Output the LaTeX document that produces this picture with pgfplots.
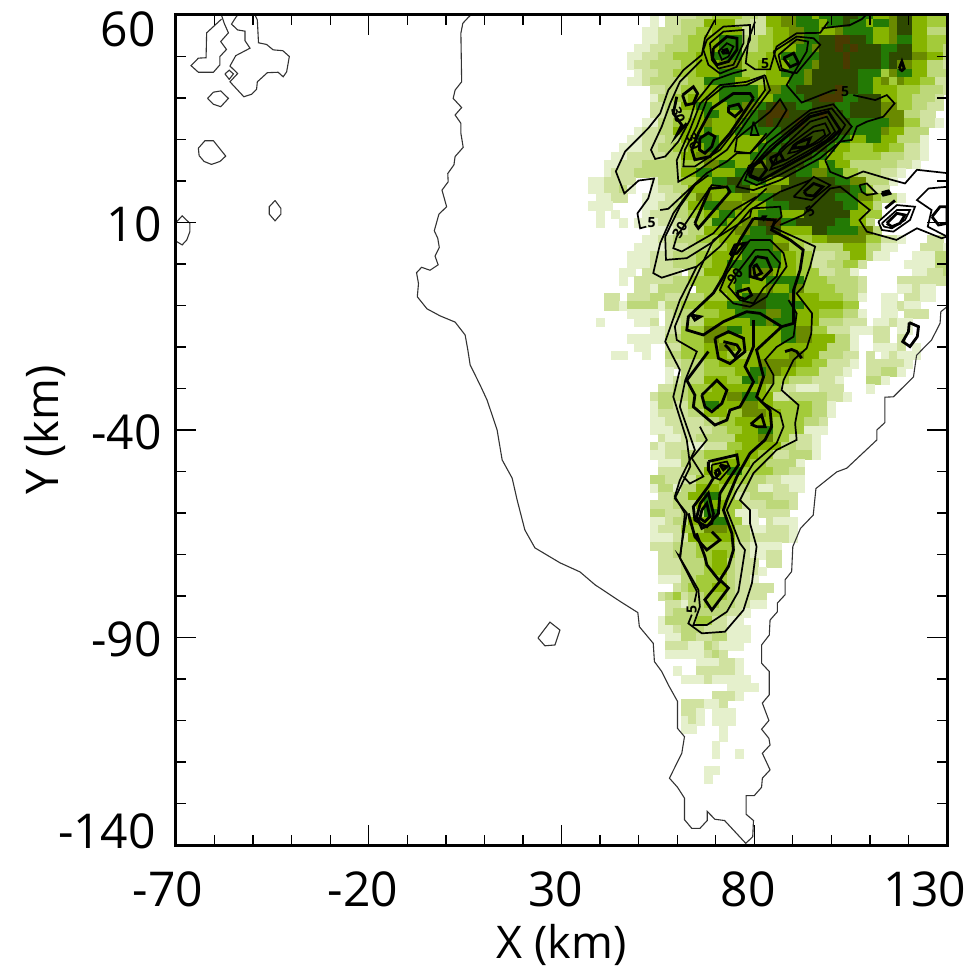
\documentclass[border=0pt]{standalone}
\usepackage{pgfplots}
\pgfplotsset{compat=1.18}
\usepackage{fontspec}
\setmainfont{Open Sans}
\definecolor{lev1}{HTML}{E5F0CC}
\definecolor{lev2}{HTML}{D0E2A0}
\definecolor{lev3}{HTML}{BDD87A}
\definecolor{lev4}{HTML}{A3CB3A}
\definecolor{lev5}{HTML}{86B400}
\definecolor{lev6}{HTML}{6A8A00}
\definecolor{lev7}{HTML}{237A05}
\definecolor{lev8}{HTML}{2F4A00}
\definecolor{lev9}{HTML}{4A3A00}
\newcommand\tickfont{\fontsize{48}{52}\selectfont}
\pgfplotsset{
 coast/.style={line width=1.1pt,color=black!80,forget plot},
 cont/.style={line width=1.7pt,black,forget plot},
 contb/.style={line width=2.8pt,black,forget plot},
}
\tikzset{clab/.style={font=\bfseries\fontsize{14}{14}\selectfont,inner sep=0pt}}
\begin{document}
\begin{tikzpicture}
\path[use as bounding box] (-176pt,-121pt) rectangle (803pt,845pt);
\begin{axis}[
 scale only axis, width=771pt, height=830pt,
 xmin=-70,xmax=130,ymin=-140,ymax=60,
 clip marker paths=true,
 xtick={-70,-20,30,80,130},ytick={-140,-90,-40,10,60},
 xticklabels={,-20,30,80,},yticklabels={,-90,-40,10,},
 minor xtick={-60,-50,...,120},minor ytick={-130,-120,...,50},
 tick align=inside, major tick length=20pt, minor tick length=10pt,
 tick style={black,line width=1.3pt},
 axis line style={line width=3pt},
 xticklabel style={font=\tickfont,anchor=center,yshift=-44pt,xshift=-6pt,inner sep=0pt},
 yticklabel style={font=\tickfont,anchor=east,xshift=-14pt,yshift=-2pt,inner sep=0pt},
 xlabel={X (km)},ylabel={Y (km)},
 label style={font=\fontsize{45}{50}\selectfont},
 xlabel style={at={(axis description cs:0.5,0)},anchor=center,yshift=-100pt},
 ylabel style={at={(axis description cs:0,0.5)},anchor=center,yshift=131pt},
 axis on top,
]
\addplot[scatter, only marks, mark=none, forget plot,
  visualization depends on=value \thisrow{n}\as\cn,
  visualization depends on=value \thisrow{l}\as\cl,
  scatter/@pre marker code/.code={%
    \pgfmathsetmacro\cw{7.71*\cn}%
    \fill[lev\cl] (-3.95pt,-4.25pt) rectangle ({\cw*1pt-3.75pt},4.25pt);},
  scatter/@post marker code/.code={},
] table[row sep=\\,x=x,y=y]{
x y n l\\
54 60 1 1\\58 60 4 2\\66 60 2 3\\70 60 4 4\\78 60 2 3\\82 60 1 2\\84 60 2 5\\88 60 2 6\\92 60 2 7\\96 60 1 5\\98 60 3 7\\104 60 2 8\\108 60 2 7\\112 60 2 5\\116 60 1 6\\118 60 2 8\\122 60 2 5\\126 60 3 4\\
54 58 1 1\\58 58 2 2\\62 58 3 3\\68 58 4 5\\76 58 2 3\\80 58 2 2\\84 58 2 5\\88 58 2 6\\92 58 3 7\\98 58 1 5\\100 58 2 7\\104 58 1 8\\106 58 2 7\\110 58 1 5\\112 58 2 7\\116 58 1 6\\118 58 2 8\\122 58 2 5\\126 58 3 4\\
52 56 2 1\\56 56 3 2\\62 56 2 3\\66 56 2 4\\70 56 4 5\\78 56 3 2\\84 56 1 4\\86 56 2 5\\90 56 2 6\\94 56 2 7\\98 56 2 5\\102 56 1 6\\104 56 4 7\\112 56 2 5\\116 56 1 6\\118 56 2 8\\122 56 2 5\\126 56 3 3\\
52 54 2 1\\56 54 2 2\\60 54 2 3\\64 54 2 4\\68 54 2 5\\72 54 3 7\\78 54 2 3\\82 54 2 4\\86 54 2 5\\90 54 2 6\\94 54 2 7\\98 54 2 8\\102 54 2 9\\106 54 2 8\\110 54 1 7\\112 54 2 5\\116 54 1 6\\118 54 2 7\\122 54 2 5\\126 54 3 4\\
50 52 2 1\\54 52 2 2\\58 52 3 3\\64 52 2 4\\68 52 2 5\\72 52 3 7\\78 52 2 3\\82 52 2 4\\86 52 3 5\\92 52 2 7\\96 52 1 6\\98 52 2 8\\102 52 1 9\\104 52 1 8\\106 52 1 9\\108 52 3 8\\114 52 2 7\\118 52 2 8\\122 52 2 5\\126 52 2 4\\130 52 1 3\\
48 50 2 1\\52 50 2 2\\56 50 2 3\\60 50 3 4\\66 50 2 5\\70 50 4 7\\78 50 3 4\\84 50 2 5\\88 50 4 7\\96 50 1 7\\98 50 3 8\\104 50 1 9\\106 50 4 8\\114 50 1 7\\116 50 3 8\\122 50 2 6\\126 50 2 5\\130 50 1 3\\
48 48 1 1\\50 48 2 2\\54 48 4 3\\62 48 2 4\\66 48 3 5\\72 48 3 6\\78 48 2 4\\82 48 4 5\\90 48 3 7\\96 48 1 6\\98 48 3 8\\104 48 1 9\\106 48 4 8\\114 48 1 7\\116 48 1 8\\118 48 2 6\\122 48 2 5\\126 48 2 3\\130 48 1 2\\
50 46 1 1\\52 46 2 2\\56 46 2 3\\60 46 3 4\\66 46 3 5\\72 46 3 7\\78 46 3 4\\84 46 2 5\\88 46 3 7\\94 46 1 6\\96 46 6 8\\108 46 3 7\\114 46 1 4\\116 46 1 6\\118 46 2 7\\122 46 2 5\\126 46 3 3\\
48 44 2 1\\52 44 1 2\\54 44 3 3\\60 44 2 3\\64 44 2 4\\68 44 4 7\\76 44 2 5\\80 44 2 4\\84 44 3 5\\90 44 2 7\\94 44 1 6\\96 44 6 8\\108 44 2 7\\112 44 1 5\\114 44 1 6\\116 44 1 4\\118 44 1 6\\120 44 2 5\\124 44 2 4\\128 44 2 2\\
54 42 2 2\\58 42 2 3\\62 42 3 4\\68 42 2 5\\72 42 5 7\\82 42 1 5\\84 42 2 6\\88 42 2 7\\92 42 5 8\\102 42 1 9\\104 42 2 8\\108 42 2 7\\112 42 3 5\\118 42 3 4\\124 42 3 3\\130 42 1 2\\
54 40 1 1\\56 40 2 3\\60 40 2 4\\64 40 4 5\\72 40 5 7\\82 40 2 5\\86 40 4 7\\94 40 2 8\\98 40 3 9\\104 40 2 7\\108 40 3 8\\114 40 2 5\\118 40 2 4\\122 40 3 3\\128 40 1 2\\
54 38 2 2\\58 38 2 3\\62 38 2 5\\66 38 2 7\\70 38 2 5\\74 38 2 7\\78 38 2 6\\82 38 1 7\\84 38 1 8\\86 38 1 9\\88 38 2 8\\92 38 2 7\\96 38 3 8\\102 38 2 7\\106 38 4 8\\114 38 2 6\\118 38 2 4\\122 38 2 3\\126 38 2 2\\
54 36 2 2\\58 36 2 3\\62 36 2 4\\66 36 1 5\\68 36 2 7\\72 36 3 5\\78 36 1 6\\80 36 1 7\\82 36 1 8\\84 36 3 9\\90 36 4 8\\98 36 1 9\\100 36 2 8\\104 36 1 7\\106 36 4 8\\114 36 3 6\\120 36 2 3\\124 36 2 2\\
52 34 2 1\\56 34 2 3\\60 34 2 4\\64 34 2 5\\68 34 1 6\\70 34 3 5\\76 34 1 6\\78 34 2 7\\82 34 1 8\\84 34 1 9\\86 34 3 8\\92 34 1 9\\94 34 6 8\\106 34 5 7\\116 34 2 6\\120 34 2 4\\124 34 2 2\\128 34 1 1\\
50 32 1 1\\52 32 2 2\\56 32 2 3\\60 32 4 5\\68 32 1 7\\70 32 3 5\\76 32 6 7\\88 32 3 8\\94 32 6 8\\106 32 4 7\\114 32 1 6\\116 32 2 5\\120 32 3 3\\
48 30 2 1\\52 30 3 2\\58 30 2 3\\62 30 2 5\\66 30 3 7\\72 30 6 5\\84 30 3 7\\90 30 6 8\\102 30 2 7\\106 30 2 5\\110 30 2 7\\114 30 2 5\\118 30 3 3\\124 30 1 1\\
46 28 3 1\\52 28 2 2\\56 28 2 3\\60 28 2 4\\64 28 2 5\\68 28 2 7\\72 28 5 5\\82 28 3 7\\88 28 6 8\\100 28 1 7\\102 28 2 5\\106 28 3 4\\112 28 2 5\\116 28 2 4\\120 28 2 2\\124 28 1 1\\
44 26 2 1\\48 26 5 2\\58 26 2 3\\62 26 2 5\\66 26 2 6\\70 26 5 5\\80 26 2 7\\84 26 6 8\\96 26 2 7\\100 26 2 5\\104 26 5 4\\114 26 3 3\\120 26 2 2\\124 26 1 1\\
42 24 2 1\\46 24 3 2\\52 24 5 3\\62 24 3 4\\68 24 2 6\\72 24 2 7\\76 24 2 5\\80 24 2 6\\84 24 5 8\\94 24 2 7\\98 24 1 5\\100 24 1 7\\102 24 2 5\\106 24 6 3\\118 24 2 2\\122 24 1 1\\
42 22 1 1\\44 22 3 2\\50 22 6 3\\62 22 2 5\\66 22 2 7\\70 22 3 5\\76 22 2 7\\80 22 6 8\\92 22 2 7\\96 22 2 6\\100 22 2 7\\104 22 2 4\\108 22 3 3\\114 22 2 2\\118 22 1 1\\
38 20 2 1\\42 20 4 2\\54 20 1 1\\56 20 3 3\\62 20 2 4\\66 20 2 5\\70 20 2 7\\74 20 2 8\\78 20 3 7\\84 20 3 5\\90 20 6 8\\102 20 2 7\\106 20 2 6\\110 20 3 3\\116 20 1 1\\
38 18 2 1\\42 18 2 2\\46 18 1 3\\48 18 1 1\\54 18 1 1\\56 18 2 2\\60 18 2 3\\64 18 2 5\\68 18 3 5\\74 18 1 7\\76 18 2 8\\80 18 2 5\\84 18 2 6\\88 18 9 8\\106 18 2 7\\110 18 1 4\\112 18 2 2\\
40 16 2 1\\44 16 2 2\\52 16 3 1\\58 16 2 2\\62 16 2 4\\66 16 2 6\\70 16 4 5\\78 16 2 6\\82 16 2 7\\86 16 8 8\\102 16 3 7\\108 16 2 6\\112 16 1 4\\114 16 2 3\\118 16 1 1\\
38 14 3 1\\52 14 2 1\\56 14 2 2\\60 14 2 3\\64 14 2 5\\68 14 2 7\\72 14 3 6\\78 14 3 5\\84 14 3 7\\90 14 7 8\\104 14 2 7\\108 14 2 5\\112 14 1 3\\
40 12 1 1\\44 12 1 1\\52 12 1 1\\54 12 3 2\\60 12 2 3\\64 12 2 4\\68 12 2 5\\72 12 2 7\\76 12 3 5\\82 12 3 7\\88 12 3 5\\94 12 6 8\\106 12 2 5\\110 12 2 4\\
40 10 1 1\\46 10 1 1\\50 10 3 1\\56 10 3 2\\62 10 2 3\\66 10 2 4\\70 10 2 7\\74 10 2 5\\78 10 2 6\\82 10 1 8\\84 10 2 9\\88 10 2 7\\92 10 5 8\\102 10 2 7\\106 10 2 5\\110 10 1 3\\
54 8 3 1\\60 8 2 2\\64 8 2 3\\68 8 4 5\\76 8 2 6\\80 8 2 7\\84 8 2 8\\88 8 4 5\\96 8 2 8\\100 8 4 7\\108 8 2 6\\112 8 1 3\\
52 6 2 1\\56 6 2 2\\60 6 3 3\\66 6 3 4\\72 6 3 5\\78 6 4 7\\86 6 2 5\\90 6 3 4\\96 6 2 5\\100 6 5 6\\110 6 2 4\\114 6 2 2\\118 6 1 1\\126 6 2 2\\
50 4 4 1\\58 4 3 2\\64 4 3 3\\70 4 2 4\\74 4 2 5\\78 4 4 7\\86 4 2 6\\90 4 2 4\\94 4 5 3\\104 4 3 5\\110 4 2 3\\114 4 2 1\\124 4 3 2\\130 4 1 1\\
48 2 3 1\\54 2 3 2\\60 2 3 3\\66 2 2 4\\70 2 4 5\\78 2 5 7\\88 2 2 5\\92 2 2 4\\96 2 3 2\\102 2 2 3\\106 2 2 5\\110 2 1 3\\112 2 2 1\\122 2 3 1\\128 2 2 3\\
48 0 3 1\\54 0 3 2\\60 0 3 3\\66 0 2 4\\70 0 2 5\\74 0 7 7\\88 0 2 5\\92 0 2 4\\96 0 2 2\\100 0 2 3\\104 0 2 4\\108 0 1 2\\120 0 4 1\\128 0 2 3\\
46 -2 2 1\\52 -2 5 2\\64 -2 2 3\\68 -2 4 5\\76 -2 2 7\\80 -2 3 6\\86 -2 3 5\\92 -2 3 4\\98 -2 2 2\\102 -2 2 3\\106 -2 1 1\\122 -2 2 1\\126 -2 2 2\\130 -2 1 3\\
46 -4 1 1\\50 -4 5 2\\60 -4 2 3\\64 -4 4 4\\72 -4 2 5\\76 -4 2 7\\80 -4 2 5\\84 -4 5 7\\94 -4 3 4\\100 -4 4 3\\108 -4 1 2\\118 -4 7 2\\
50 -6 2 2\\54 -6 1 1\\56 -6 4 3\\66 -6 3 4\\72 -6 2 5\\76 -6 1 7\\78 -6 3 5\\84 -6 1 6\\86 -6 2 5\\90 -6 1 7\\92 -6 1 6\\94 -6 4 4\\102 -6 3 3\\108 -6 1 2\\118 -6 2 1\\122 -6 1 2\\124 -6 2 1\\
42 -8 2 2\\48 -8 3 2\\54 -8 2 3\\58 -8 2 2\\62 -8 3 3\\68 -8 3 4\\74 -8 2 5\\78 -8 1 7\\80 -8 2 8\\84 -8 3 7\\90 -8 1 6\\92 -8 3 5\\98 -8 3 4\\104 -8 2 3\\108 -8 1 1\\114 -8 2 1\\120 -8 2 2\\124 -8 2 1\\
42 -10 2 2\\46 -10 1 1\\48 -10 4 3\\56 -10 1 1\\58 -10 2 3\\62 -10 3 4\\68 -10 3 5\\74 -10 2 7\\78 -10 3 8\\84 -10 5 7\\94 -10 5 5\\104 -10 2 4\\114 -10 2 1\\118 -10 1 2\\120 -10 2 1\\
48 -12 4 1\\58 -12 1 2\\60 -12 3 3\\66 -12 3 4\\72 -12 2 5\\76 -12 4 7\\84 -12 2 6\\88 -12 2 7\\92 -12 3 5\\98 -12 3 4\\104 -12 2 3\\108 -12 1 1\\114 -12 2 1\\120 -12 3 2\\
40 -14 1 1\\50 -14 2 1\\54 -14 1 2\\58 -14 2 2\\62 -14 3 3\\68 -14 6 5\\80 -14 2 7\\84 -14 1 6\\86 -14 3 7\\92 -14 3 5\\98 -14 3 3\\104 -14 3 2\\112 -14 2 1\\116 -14 1 2\\118 -14 2 1\\
54 -16 2 1\\58 -16 2 2\\62 -16 3 4\\68 -16 3 6\\74 -16 2 7\\78 -16 5 5\\88 -16 2 7\\92 -16 2 6\\96 -16 2 4\\100 -16 3 2\\106 -16 3 1\\112 -16 2 2\\118 -16 2 1\\
48 -18 3 1\\54 -18 2 1\\58 -18 2 3\\62 -18 3 4\\68 -18 2 6\\72 -18 6 5\\84 -18 2 5\\88 -18 2 7\\92 -18 2 6\\96 -18 3 5\\102 -18 2 3\\106 -18 1 1\\112 -18 2 2\\118 -18 1 2\\
50 -20 2 1\\58 -20 2 2\\62 -20 3 4\\68 -20 2 5\\72 -20 2 6\\76 -20 12 5\\100 -20 3 3\\106 -20 1 1\\112 -20 3 1\\118 -20 1 2\\122 -20 1 1\\
44 -22 2 1\\52 -22 1 1\\58 -22 2 3\\62 -22 3 4\\68 -22 3 5\\74 -22 3 4\\80 -22 5 5\\90 -22 2 6\\94 -22 2 5\\98 -22 3 3\\104 -22 2 2\\110 -22 1 2\\114 -22 1 1\\116 -22 1 2\\118 -22 3 1\\
58 -24 2 2\\62 -24 3 3\\68 -24 2 4\\72 -24 5 5\\82 -24 5 6\\92 -24 2 5\\96 -24 2 4\\100 -24 3 2\\106 -24 1 1\\110 -24 5 2\\120 -24 1 1\\
58 -26 1 1\\62 -26 3 3\\68 -26 4 4\\76 -26 2 5\\80 -26 2 7\\84 -26 2 6\\88 -26 2 5\\92 -26 3 4\\98 -26 3 2\\104 -26 1 1\\110 -26 2 2\\114 -26 2 3\\118 -26 1 1\\
58 -28 1 1\\60 -28 1 2\\62 -28 3 3\\68 -28 3 5\\74 -28 2 4\\78 -28 2 7\\82 -28 2 6\\86 -28 2 4\\90 -28 3 3\\96 -28 3 2\\102 -28 1 1\\110 -28 2 3\\114 -28 1 1\\
56 -30 2 2\\60 -30 2 3\\64 -30 3 4\\70 -30 7 5\\84 -30 2 4\\88 -30 2 2\\92 -30 3 1\\98 -30 3 2\\110 -30 1 1\\
54 -32 1 2\\56 -32 4 3\\64 -32 2 4\\68 -32 3 5\\74 -32 2 6\\78 -32 2 7\\82 -32 2 5\\86 -32 2 2\\90 -32 5 3\\100 -32 2 2\\104 -32 1 1\\
54 -34 1 1\\56 -34 2 3\\60 -34 2 2\\64 -34 2 4\\68 -34 2 7\\72 -34 3 5\\78 -34 2 6\\82 -34 2 5\\86 -34 5 4\\96 -34 2 3\\100 -34 1 1\\
54 -36 1 1\\56 -36 4 2\\64 -36 2 3\\68 -36 3 5\\74 -36 2 4\\78 -36 3 6\\84 -36 2 5\\88 -36 4 4\\96 -36 2 3\\100 -36 1 1\\
54 -38 2 1\\58 -38 5 2\\68 -38 2 3\\72 -38 2 4\\76 -38 5 5\\86 -38 4 4\\94 -38 2 3\\98 -38 1 2\\
54 -40 3 1\\60 -40 5 2\\70 -40 2 3\\74 -40 2 4\\78 -40 2 5\\82 -40 2 7\\86 -40 4 4\\94 -40 3 1\\
56 -42 1 2\\58 -42 2 1\\62 -42 2 2\\66 -42 5 3\\76 -42 3 5\\82 -42 2 6\\86 -42 2 4\\90 -42 3 2\\96 -42 1 1\\
54 -44 1 2\\56 -44 1 1\\58 -44 3 2\\64 -44 2 1\\68 -44 3 2\\74 -44 2 4\\78 -44 5 5\\88 -44 2 3\\92 -44 2 2\\96 -44 1 1\\
54 -46 2 1\\58 -46 2 2\\62 -46 3 3\\68 -46 4 4\\76 -46 3 5\\82 -46 2 4\\86 -46 2 2\\90 -46 3 3\\96 -46 1 1\\
56 -48 3 1\\62 -48 4 3\\70 -48 5 5\\80 -48 2 4\\84 -48 4 3\\92 -48 1 1\\
56 -50 4 2\\64 -50 2 3\\68 -50 3 5\\74 -50 2 7\\78 -50 4 4\\86 -50 2 3\\90 -50 2 2\\
54 -52 2 3\\58 -52 4 2\\66 -52 3 4\\72 -52 2 5\\76 -52 2 4\\80 -52 2 3\\84 -52 2 2\\88 -52 3 1\\
54 -54 1 1\\56 -54 2 3\\60 -54 1 1\\62 -54 2 3\\66 -54 3 5\\72 -54 2 4\\76 -54 3 3\\82 -54 2 1\\86 -54 2 2\\90 -54 2 1\\
56 -56 2 2\\60 -56 2 3\\64 -56 2 5\\68 -56 2 7\\72 -56 2 4\\76 -56 2 2\\80 -56 3 3\\86 -56 3 2\\
54 -58 3 2\\60 -58 3 3\\66 -58 1 5\\68 -58 1 7\\70 -58 2 5\\74 -58 2 4\\78 -58 3 2\\84 -58 3 3\\90 -58 1 2\\
54 -60 2 3\\58 -60 2 2\\62 -60 3 3\\68 -60 2 7\\72 -60 2 4\\76 -60 3 1\\82 -60 1 2\\84 -60 3 2\\
54 -62 2 1\\58 -62 1 2\\60 -62 2 3\\64 -62 3 5\\70 -62 2 7\\74 -62 2 4\\78 -62 2 1\\84 -62 1 2\\86 -62 3 1\\
54 -64 1 1\\56 -64 3 2\\62 -64 3 4\\68 -64 3 6\\74 -64 1 5\\76 -64 2 3\\80 -64 2 1\\84 -64 3 2\\90 -64 1 1\\
54 -66 3 1\\60 -66 2 2\\64 -66 6 5\\76 -66 2 3\\80 -66 5 2\\90 -66 1 1\\
54 -68 3 2\\60 -68 3 3\\66 -68 5 4\\76 -68 2 2\\80 -68 4 1\\
56 -70 2 2\\60 -70 3 3\\66 -70 2 4\\70 -70 2 5\\74 -70 1 4\\76 -70 2 2\\80 -70 2 1\\84 -70 2 2\\
56 -72 3 2\\62 -72 3 3\\68 -72 1 4\\70 -72 2 5\\74 -72 1 3\\76 -72 3 2\\84 -72 2 2\\
56 -74 3 2\\62 -74 3 3\\68 -74 1 4\\70 -74 2 5\\74 -74 1 3\\76 -74 3 2\\82 -74 1 1\\
56 -76 3 1\\62 -76 2 3\\66 -76 4 4\\74 -76 1 3\\76 -76 2 2\\80 -76 1 1\\
60 -78 1 2\\62 -78 1 3\\64 -78 3 4\\70 -78 2 5\\74 -78 1 3\\76 -78 2 2\\80 -78 3 2\\
56 -80 1 2\\58 -80 1 3\\60 -80 1 4\\62 -80 1 2\\64 -80 2 3\\68 -80 3 4\\74 -80 1 3\\76 -80 4 2\\
58 -82 2 2\\62 -82 1 1\\64 -82 2 3\\68 -82 2 4\\72 -82 2 3\\76 -82 2 2\\80 -82 2 1\\
58 -84 1 2\\60 -84 2 3\\64 -84 4 3\\72 -84 1 3\\74 -84 2 2\\78 -84 1 1\\
56 -86 1 1\\58 -86 2 3\\62 -86 2 3\\66 -86 2 4\\70 -86 2 2\\74 -86 2 1\\
56 -88 2 1\\60 -88 1 2\\62 -88 3 3\\68 -88 3 2\\74 -88 3 1\\
58 -90 2 1\\62 -90 2 3\\66 -90 2 2\\70 -90 2 3\\74 -90 3 1\\
58 -92 3 2\\64 -92 2 1\\68 -92 1 3\\70 -92 1 2\\72 -92 3 1\\
58 -94 3 1\\64 -94 2 1\\68 -94 1 2\\70 -94 1 3\\72 -94 1 2\\
66 -96 3 1\\72 -96 2 2\\76 -96 1 1\\
60 -98 1 1\\66 -98 5 2\\76 -98 1 1\\
62 -100 3 1\\68 -100 1 2\\70 -100 5 1\\
74 -102 4 1\\
70 -104 3 2\\76 -104 1 1\\
62 -106 3 2\\68 -106 2 1\\72 -106 1 2\\
62 -108 2 2\\66 -108 1 1\\70 -108 3 1\\
62 -110 1 1\\64 -110 1 2\\66 -110 1 1\\70 -110 3 1\\
62 -112 2 1\\72 -112 1 1\\
72 -114 1 1\\
70 -116 1 1\\
70 -118 1 1\\76 -118 1 1\\
68 -122 2 1\\
68 -124 1 1\\
};
% coastline and outer blobs
\addplot[coast] coordinates {(6.5,60)(5.8,59.4)(4.4,58)(3.9,55.6)(4.1,43.9)(2.4,41.9)(1.9,39.9)(4.1,37.7)(2.4,35.9)(3.9,33.9)(3.9,31.5)(4.5,28.1)(2.4,25.9)(2.1,23.9)(0.5,21.8)(0.6,19.8)(-1,17.8)(0.2,13.8)(-1.8,12)(-3,8)(-2.1,6.2)(-1.7,4)(-2.8,1.9)(-2,-0.2)(-4.1,-1.5)(-6.3,-0.8)(-7.6,-2.1)(-7.1,-4.7)(-7.4,-7.9)(-4.9,-10.8)(-1.5,-12.5)(2.4,-14)(5,-17.1)(5.7,-20.7)(6.3,-24.3)(8.9,-29.2)(10.7,-32.8)(13.3,-40)(14.6,-47.2)(17.2,-51.6)(18.5,-56.9)(20.5,-64.1)(23.1,-68.4)(29.6,-72)(34.8,-74.2)(38.7,-77.3)(45.2,-81.3)(49.8,-84)(50.2,-87.4)(53.8,-91.4)(54.1,-95.8)(56,-98.2)(57.7,-101.4)(60.1,-105.4)(60.1,-111.9)(61.9,-113.9)(61.2,-117.9)(58,-123.9)(60.1,-126.1)(61.9,-128.7)(61.9,-133.9)(63.8,-136)(65.9,-136)(67.8,-134.1)(67.8,-131.9)(69.8,-133.8)(72.3,-134.1)(77.8,-139.6)(79.6,-138)(79.8,-134.1)(77.9,-132.6)(77.9,-128.1)(80,-128.1)(81.9,-126.1)(82.1,-123.9)(84.1,-121.9)(82.1,-117.9)(84.1,-115.9)(83.8,-114.3)(81.9,-112.1)(83.8,-110)(82.1,-105.8)(83.9,-103.8)(83.9,-98.2)(81.9,-96.2)(81.9,-91.8)(83.9,-89.4)(84.1,-85.8)(86,-83.8)(86,-81.7)(88,-79.7)(88,-76.1)(89.7,-74.1)(90,-68.1)(92,-63.7)(95.3,-60.5)(96,-54.1)(101.4,-50.1)(104,-49.2)(111.8,-42.4)(111.8,-40)(113.9,-38.2)(113.9,-32.1)(116.1,-32)(121.3,-27.2)(122.1,-22)(126,-18.3)(128.2,-14.3)(128.4,-11.5)(130,-10.3)};
\addplot[coast] coordinates {(-58.2,59)(-62.05,55.7)(-62.2,49.7)(-64.2,49.6)(-66.1,47.8)(-64.2,46.2)(-60.3,46.2)(-58.6,48)(-58.6,50)(-56.9,51.7)(-58.4,53.6)(-56.4,55.7)(-57.5,58)(-58.2,60)};
\addplot[coast] coordinates {(-54,60)(-54.5,59.4)(-55.6,57.8)(-54,56.4)(-52.1,56.1)(-52.1,53.8)(-50.8,52)(-54.5,50.2)(-56,47.7)(-54,45.9)(-56,43.9)(-52.4,40.3)(-50.4,40.9)(-49.1,42.1)(-48.9,43.9)(-46.3,46.1)(-43.5,46.2)(-42.2,45.1)(-41.3,46.3)(-40.6,50)(-42.3,51.4)(-44.8,51.6)(-46.5,52.9)(-48.6,53.3)(-48.9,58.8)(-49.5,60)};
\addplot[coast] coordinates {(-57.3,45.8)(-56.2,46.7)(-55.1,45.8)(-56.2,44.5)(-57.3,45.8)};
\addplot[coast] coordinates {(-61.8,39.9)(-60.3,41.4)(-58.4,41.7)(-56.4,39.9)(-58.4,37.9)(-60.3,38.5)(-61.8,39.9)};
\addplot[coast] coordinates {(-64.2,27.9)(-62.5,29.7)(-60.3,29.7)(-57.1,26)(-58.6,24.7)(-60.8,24)(-62.7,24.7)(-64,26.1)(-64.2,27.9)};
\addplot[coast] coordinates {(-44.3,15.3)(-42.8,13.4)(-42.8,12)(-44.3,10.4)(-45.8,12)(-45.8,13.8)(-44.3,15.3)};
\addplot[coast] coordinates {(-70,10)(-68.4,11.6)(-66.4,9.8)(-66.4,7.8)(-67.2,5.8)(-68.4,4.6)(-70,5.5)};
\addplot[coast] coordinates {(23.9,-90.1)(27,-86.3)(29.6,-88.2)(28.3,-91.8)(25.7,-92)(23.9,-90.1)};
% contours: upper lobes
\addplot[cont] coordinates {(69.8,58.8)(67.2,54.4)(66.4,50.4)(61.6,46.7)(57.7,41.9)(55.6,36.3)(52.5,32.7)(49.5,29.9)(46.5,27.1)(44.1,22.3)(46.3,17)(50,20.1)(54,20.6)(52.5,15.8)(49.7,12.2)(50.4,8.6)(52,9)};
\addplot[cont] coordinates {(55.6,13)(57.7,13.3)(64.6,19.3)(67.7,21.9)(72.9,24.7)(75.5,26.7)(78.9,26.7)(83.2,31.5)};
\addplot[cont] coordinates {(80.2,58.4)(78.5,54)(77.8,48.4)(80.2,46.9)(84.1,46.9)(85.8,52.4)(91,55.6)(97.1,55.7)(99.2,58.4)};
\addplot[cont] coordinates {(97.5,56.8)(104.9,57.6)(107.9,59)(109,60)};
\addplot[cont] coordinates {(85,51.2)(91,54.8)(95.4,54.4)(97.1,52.8)(91,46)(86.7,46.7)(85,51.2)};
\addplot[cont] coordinates {(86.3,50.4)(91,54.1)(94,53.6)(93.6,51.2)(90.2,45.9)(87.1,47.1)(86.3,50.4)};
\addplot[contb] coordinates {(87.6,49.6)(90.2,50.8)(91.5,48.4)(89.3,47.5)(87.6,49.6)};
\addplot[cont] coordinates {(67.7,54)(72,57.2)(78.9,57.6)(78.9,54)(75.4,47.5)(71.1,45.9)(68.1,48)(66.8,51.6)(67.7,54)};
\addplot[cont] coordinates {(68.5,53.2)(72,56)(77.2,56.4)(77.2,53.2)(74.6,48)(70.7,47.1)(69,49.2)(68.5,53.2)};
\addplot[contb] coordinates {(69.4,52)(72.9,54.8)(75.5,54.4)(75.5,51.6)(73.3,48.8)(70.3,48)(69.2,49.6)(69.4,52)};
\addplot[cont] coordinates {(70.7,51.2)(72.9,53.2)(74.6,52.4)(73.3,50)(71.6,49.2)(70.7,51.2)};
\addplot[contb] coordinates {(71.6,51.4)(72.9,51.7)(73.3,50.9)(72,50.8)(71.6,51.4)};
\addplot[cont] coordinates {(82.8,45.5)(84.1,41.9)(78.9,35.5)(72.9,27.5)(65.1,22.3)(60.3,19.8)(59.9,25)(63.3,32.3)(66,38.7)(71.1,43.1)(78,43.9)(82.8,45.5)};
\addplot[cont] coordinates {(82.4,45.1)(82.8,41.9)(77.2,34.7)(71.1,27.5)(64.6,23.5)(61.6,23.5)(62,27.5)(65.1,33.1)(67.7,39.5)(72,42.7)(78,43.1)(82.4,45.1)};
\addplot[contb] coordinates {(79.8,39.9)(73.7,31.5)(68.5,25.9)(64.6,25.1)(63.8,27.5)(65.5,31.5)(69,37.5)(74.6,41.1)(78.9,41.1)(79.8,39.9)};
\addplot[contb] coordinates {(65.9,30.3)(68.1,31.6)(69.8,30.7)(69,28.3)(67.2,26.7)(65.8,27.5)(65.9,30.3)};
\addplot[contb] coordinates {(73.3,37.9)(75.9,38.5)(76.8,37.1)(75,35.5)(73.3,36.7)(73.3,37.9)};
\addplot[contb] coordinates {(61.4,40.7)(64.2,42.7)(65.3,41.1)(64.2,38.7)(62.3,38.3)(61.4,40.7)};
\addplot[cont] coordinates {(66.4,49.2)(60.7,43.9)(58.2,38.7)(56,33.1)(53.2,27.5)(54.3,25.3)(56.9,25.9)(60.3,29.5)(63.3,34.7)(64.6,38.7)(69.4,44.3)(74.6,46)(78,46.8)};
\addplot[contb] coordinates {(59.9,40.3)(59,36.3)(61.2,33.5)(59.9,31.1)(62.5,33.9)};
\addplot[cont] coordinates {(79.8,34.3)(81.1,31.1)(79.1,31.1)(79.8,34.3)};
\addplot[cont] coordinates {(75.5,30.3)(84.1,36.7)(86.7,39.7)(88.4,37.1)(85.8,33.1)(78.9,26.7)(75,27.1)(75.5,30.3)};
% diagonal band
\addplot[cont] coordinates {(77.6,21.9)(83.2,29.1)(94.5,37.1)(100.5,38.5)(105.3,33.1)(102.3,29.5)(97.1,25.5)(86.7,20.2)(79.8,17.8)(75.5,18.6)(77.6,21.9)};
\addplot[cont] coordinates {(78.5,22.6)(84.1,28.3)(94.5,36.3)(100.1,37.5)(103.6,33.5)(101.4,30.3)(95.4,25.9)(86.7,21.5)(80.6,19)(77.6,20.2)(78.5,22.6)};
\addplot[contb] coordinates {(79.8,23.5)(85.8,28.7)(94.5,35.5)(99.2,36.7)(102.3,32.3)(100.1,30.3)(94.5,26.7)(86.7,22.7)(81.9,20.2)(78.9,21.4)(79.8,23.5)};
\addplot[cont] coordinates {(86.7,27.5)(94.5,34.3)(98.8,35.5)(101,31.9)(98.8,29.9)(93.6,27)(87.6,23.9)(84.1,22.7)(86.7,27.5)};
\addplot[cont] coordinates {(88.4,28.3)(95.4,33.1)(98.4,33.9)(99.7,31.5)(97.1,29.5)(92.7,27.5)(88.4,25.1)(85.8,24.3)(85.8,25.9)(88.4,28.3)};
\addplot[cont] coordinates {(90.2,28.7)(95.4,31.9)(98,32.3)(98.4,31.1)(95.4,29.1)(91,27.1)(88.9,26.7)(90.2,28.7)};
\addplot[contb] coordinates {(91,29.1)(94.5,30.3)(93.6,28.3)(90.2,27.9)(91,29.1)};
\addplot[contb] coordinates {(84.1,25.5)(86.7,26.7)(87.6,25.1)(84.9,23.9)(84.1,25.5)};
\addplot[contb] coordinates {(78.5,23.5)(81.9,24.7)(83.2,22.7)(81.1,20.2)(78.9,21.1)(78.5,23.5)};
% lower-left lobe
\addplot[cont] coordinates {(68.1,21.4)(64.6,19)(60.7,13.8)(56.9,6.6)(57.1,1)(62.5,1.4)(69.4,5.4)(78,13.8)(83.2,18.2)};
\addplot[cont] coordinates {(64.6,19.3)(59,12.2)(55.6,5)(53.8,-2.2)(56,-3.3)(65.1,-0.6)(71.1,4.2)(78.9,13)(86.7,17.4)(94.5,20.2)};
\addplot[cont] coordinates {(72.9,18.6)(69,19)(65.1,13.8)(59.9,6.6)(59,3.8)(61.2,3)(69.4,7.4)(74.6,13)(80.6,16.2)};
\addplot[contb] coordinates {(64.6,9.8)(68.5,18.2)(72.9,18.6)(73.7,17.4)(65.5,8.6)(64.6,9.8)};
% right branches
\addplot[cont] coordinates {(86.7,9.4)(92.7,11.8)(99.7,18.2)(102.3,18.6)(110,13)(107.3,10.6)(109.2,7.8)(116.9,5.8)(122.2,8.6)(128.6,6.2)(130,6.6)};
\addplot[cont] coordinates {(98.4,25)(99.7,22.2)(104,20.6)(108.3,22.3)(114.4,20.6)(119.1,19.4)(122.2,22.7)(130,21.9)};
\addplot[cont] coordinates {(130,18.6)(125.2,18.2)(122.2,15.4)(126,13)(125,9)(130,6.6)};
\addplot[contb] coordinates {(126.1,11.4)(128.2,13.8)(130,13.8)(130,9.8)(127.8,9.4)(126.1,11.4)};
\addplot[cont] coordinates {(112.2,10.2)(117,14.2)(121.7,13.8)(120.4,10.6)(116.1,7.8)(113.1,8.2)(112.2,10.2)};
\addplot[cont] coordinates {(113.1,9.8)(117,13)(120.4,13)(119.1,10.6)(115.7,8.6)(113.7,9)(113.1,9.8)};
\addplot[contb] coordinates {(114.4,9.8)(117,12.2)(119.1,11.8)(117.8,9.8)(115.7,9)(114.4,9.8)};
\addplot[contb] coordinates {(114,13.4)(116.5,15.3)};
\addplot[cont] coordinates {(107.3,19)(109.2,19.4)(111.8,17)(109.2,16.6)(107.9,17.4)(107.3,19)};
\addplot[contb] coordinates {(113.1,17.2)(114.8,17.6)(115.2,17)(113.5,16.6)(113.1,17.2)};
\addplot[cont] coordinates {(90.2,16.2)(95.4,21)(99.7,19)(94.9,15.4)(90.2,16.2)};
\addplot[contb] coordinates {(92.9,17.4)(95.4,19.4)(97.8,18.6)(95.4,16.4)(93.6,16.6)(92.9,17.4)};
\addplot[contb] coordinates {(117.6,47.1)(118.3,48.8)(118.9,47.1)(118.3,46.6)(117.6,47.1)};
\addplot[cont] coordinates {(90.2,46)(88.4,43.1)(92.3,38.9)(100.5,41.9)(101.5,41.9)};
\addplot[cont] coordinates {(105.7,40.7)(111.4,39.5)(114.4,40.7)(116.4,38.7)(113.5,35.5)(109.2,34.3)(106.6,33.1)(105.3,29.9)(102.3,29.5)(98.4,25)};
% middle lobe, outer contours
\addplot[cont] coordinates {(79.3,13.4)(86.7,13.8)(87.1,11.4)(84.5,9)(90.2,6.6)(95.8,4.2)(94.5,-0.6)(92.7,-5.4)(91,-7.1)(95,-11.9)(94.8,-16.7)(93.6,-20.3)(90.2,-23.1)(87.6,-28)(87.1,-30.4)(91.5,-34)(90.6,-38.4)(91,-42.4)(85.8,-44.8)(79.8,-50.4)(76.3,-56.9)(78.9,-59.3)(78.9,-62.5)(80.6,-68.1)(79.4,-76.9)(77.2,-83.4)(72.4,-88.6)(66.4,-89)(62.9,-86.6)(63.8,-84.5)};
\addplot[cont] coordinates {(64.5,-81.5)(65.1,-78.9)(60.3,-70.1)(60.7,-70.5)(62.5,-60)(59.4,-56.5)(63.4,-48.8)(62.5,-42.4)(59,-32)(60.7,-25.5)(56.9,-18.7)(60.7,-8.7)(62.9,-4.7)(65.1,-0.6)};
\addplot[cont] coordinates {(88.9,-8.7)(91,-11.9)(90.2,-17.5)(85.8,-20)(82.8,-23.1)(85,-26.8)(85,-28.8)(81.9,-33.2)(86.7,-36)(87.6,-39.2)(85.8,-43.2)(79.8,-48)(75.5,-54.4)(72.9,-59.3)(76.3,-67.3)(77.6,-68.9)(76.8,-73.7)(75.9,-78.9)(72.9,-83.8)(67.7,-87)(64.2,-87)(65.9,-82.6)(65.5,-78.5)(60.8,-70.9)(62,-60.1)(59.4,-56)(60.7,-52.1)(64.6,-44.8)(60.7,-34.4)(62.1,-28)(65.1,-21.1)(59.9,-18.3)(59.4,-15.1)(63.3,-6.3)(69.4,5.8)(78.9,11.4)(79.3,13.4)};
\addplot[contb] coordinates {(79.8,11)(85.4,10.6)(84.5,8.2)(89.3,5.8)(92.7,3.4)(91.9,-1.4)(90.2,-6.3)(90.2,-11.5)(90.2,-14.3)(87.1,-15.1)(81.5,-11.9)(78,-11.5)(72,-13.9)(66.8,-17.1)(62.5,-15.9)(62.9,-12.7)(69.4,-7)(72,-3)(76.3,5.8)(79.8,11)};
\addplot[cont] coordinates {(78.9,5.8)(84.1,5.8)(87.6,2.6)(88.4,-0.6)(84.1,-6.3)(83.2,-7.9)(78.9,-10.3)(74.6,-9.5)(71.1,-6.3)(72.9,-2.2)(78.9,5.8)};
\addplot[cont] coordinates {(80.2,3.4)(83.7,3.4)(86.7,0.2)(85.8,-3)(82.4,-5.8)(79.8,-9.5)(76.3,-8.7)(73.3,-5.5)(75.5,-2.2)(80.2,3.4)};
\addplot[contb] coordinates {(80.6,1.8)(83.2,1.4)(84.5,-1.4)(81.9,-3.8)(78.9,-3)(78.9,-0.6)(80.6,1.8)};
\addplot[contb] coordinates {(79.8,-0.6)(80.6,-0.2)(81.9,-2.2)(80.2,-3)(79.8,-0.6)};
\addplot[contb] coordinates {(75.5,-6.7)(78.5,-5.9)(79.3,-7.5)(77.6,-8.5)(75.9,-7.9)(75.5,-6.7)};
\addplot[contb] coordinates {(73.7,2.2)(75,4.6)(77.6,5)(75.5,2.6)(73.7,2.2)};
\addplot[contb] coordinates {(81.9,11.4)(82.8,11.4)(82.4,10.8)(81.9,11.4)};
% rings in the middle lobe
\addplot[contb] coordinates {(69.8,-17.9)(73.3,-16.3)(77.2,-17.9)(77.6,-21.1)(73.7,-24)(70.7,-22.7)(69.8,-17.9)};
\addplot[contb] coordinates {(72,-18.7)(75.5,-19.5)(76.3,-20.7)(75,-22.3)(73.3,-20.3)(72.4,-19.5)};
\addplot[contb] coordinates {(66.4,-31.6)(70.3,-28)(72.9,-30.4)(71.6,-33.6)(69,-35.6)(67.2,-34.4)(66.4,-31.6)};
\addplot[contb] coordinates {(68.1,-21.1)(62.5,-28)(64.6,-31.6)(64.2,-34.4)(69.8,-38.8)(72.9,-37.6)(73.7,-35.2)(76.3,-34.4)(78,-31.6)(79.8,-28.4)(77.6,-24.7)(79.8,-19.9)(79.8,-13.5)};
\addplot[contb] coordinates {(87.1,-15.1)(80.6,-20.7)(82.4,-27.2)(80.6,-32)(84.1,-35.2)(84.5,-39.2)(82.8,-42.4)(78.9,-45.6)(75.5,-51.2)(72.9,-56.9)(72,-59.3)(74.2,-64.9)(74.6,-68.9)(73.3,-72.9)(71.1,-76.1)(73.3,-78.1)(69,-83.4)(67.2,-80.9)(71.1,-76.5)(67.7,-72.5)(67.2,-70.5)(65,-64.9)};
\addplot[cont] coordinates {(65.9,-39.2)(67.7,-42.4)(63.8,-46.8)(66.8,-51.2)(63.3,-52.9)(61.6,-51.2)};
\addplot[contb] coordinates {(68.1,-47.6)(75.5,-46)(75.9,-48.4)(73.3,-52)(71.1,-55.3)(70.7,-60.1)(67.7,-63.3)(64.6,-61.7)(64.2,-58.5)(68.1,-53.6)(69.4,-51.6)(68.1,-49.6)(68.1,-47.6)};
\addplot[cont] coordinates {(69,-48.4)(72.9,-47.6)(73.7,-49.2)(71.1,-52)(69,-51.2)(69,-48.4)};
\addplot[contb] coordinates {(69.8,-50)(70.7,-49.5)(71.1,-50.4)(70.3,-51.2)(69.8,-50)};
\addplot[contb] coordinates {(71.1,-48.4)(72.9,-48.8)(72,-49.6)(71.1,-48.4)};
\addplot[contb] coordinates {(66,-57.7)(68.1,-55.2)(69.4,-60.1)(69,-62.5)(66.4,-63.7)(65.1,-60.9)(66,-57.7)};
\addplot[contb] coordinates {(66.4,-59.3)(67.7,-57.7)(68.5,-60.9)(67.2,-62.1)(65.9,-61.3)(66.4,-59.3)};
\addplot[contb] coordinates {(62.9,-60.1)(64.6,-65.7)(67.7,-68.9)(71.1,-66.5)(69,-64.5)};
\addplot[contb] coordinates {(79.1,-38.6)(81.9,-36.4)(82.8,-39.2)(80.6,-39.2)(79.1,-38.6)};
\addplot[contb] coordinates {(120.2,-14.1)(122.6,-15.1)(122.3,-17.5)(120.4,-19.9)(118.5,-18.7)(120,-16.3)(120.2,-14.1)};
\addplot[contb] coordinates {(63.8,-12.3)(66,-12.7)(64.6,-13.5)(63.8,-12.3)};
\addplot[contb] coordinates {(88,-21.1)(89.7,-20.6)(91,-21.1)(92.3,-22.7)};
% contour labels
\node[clab] at (axis cs:53.4,10) {5};
\node[clab] at (axis cs:82.8,48.4) {5};
\node[clab] at (axis cs:103.6,41.5) {5};
\node[clab,rotate=30] at (axis cs:94.5,12.6) {5};
\node[clab,rotate=90] at (axis cs:63.8,-83.3) {5};
\node[clab,rotate=-70] at (axis cs:60.3,35.9) {30};
\node[clab,rotate=-70] at (axis cs:64.2,29.5) {30};
\node[clab,rotate=60] at (axis cs:60.7,8.2) {30};
\node[clab,rotate=50] at (axis cs:75,-3) {90};
\end{axis}
\node[anchor=east,inner sep=0pt,font=\tickfont] at (-20pt,14pt) {-140};
\node[anchor=east,inner sep=0pt,font=\tickfont] at (-20pt,816pt) {60};
\node[anchor=center,inner sep=0pt,font=\tickfont] at (-8pt,-44pt) {-70};
\node[anchor=center,inner sep=0pt,font=\tickfont] at (749pt,-44pt) {130};
\end{tikzpicture}
\end{document}
